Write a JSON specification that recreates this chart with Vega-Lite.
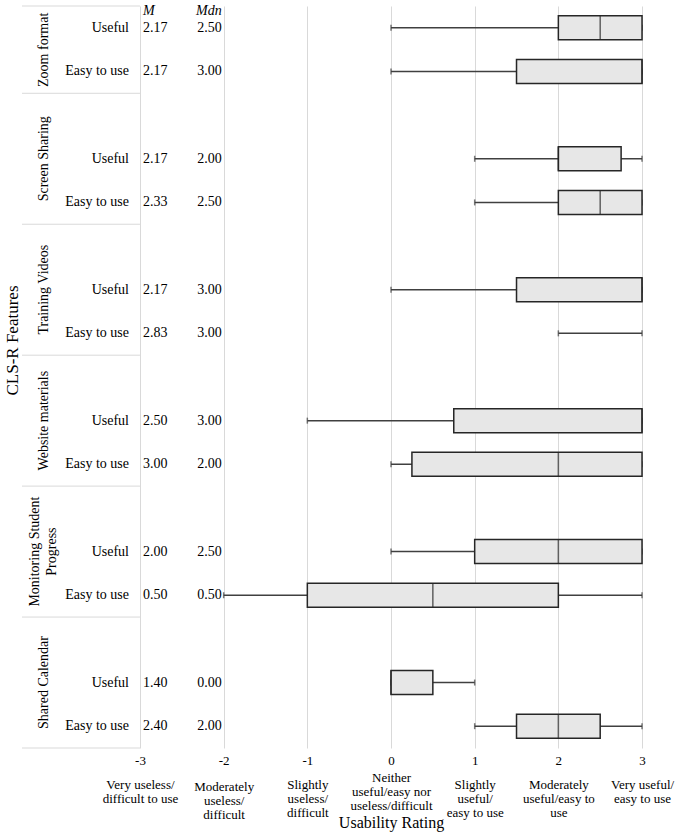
{
  "$schema": "https://vega.github.io/schema/vega-lite/v6.json",
  "width": 653,
  "height": 742,
  "autosize": {"type": "none"},
  "padding": {"left": 22, "top": 6, "right": 10, "bottom": 91},
  "background": "white",
  "config": {"view": {"stroke": null}, "font": "Liberation Serif", "text": {"font": "Liberation Serif", "fontSize": 14, "color": "black"}},
  "datasets": {
    "stats": [
      {"row": "Zoom format|Useful", "measure": "Useful", "M": 2.17, "Mdn": 2.50, "min": 0, "q1": 2, "median": 2.5, "q3": 3, "max": 3},
      {"row": "Zoom format|Easy to use", "measure": "Easy to use", "M": 2.17, "Mdn": 3.00, "min": 0, "q1": 1.5, "median": 3, "q3": 3, "max": 3},
      {"row": "Screen Sharing|Useful", "measure": "Useful", "M": 2.17, "Mdn": 2.00, "min": 1, "q1": 2, "median": 2, "q3": 2.75, "max": 3},
      {"row": "Screen Sharing|Easy to use", "measure": "Easy to use", "M": 2.33, "Mdn": 2.50, "min": 1, "q1": 2, "median": 2.5, "q3": 3, "max": 3},
      {"row": "Training Videos|Useful", "measure": "Useful", "M": 2.17, "Mdn": 3.00, "min": 0, "q1": 1.5, "median": 3, "q3": 3, "max": 3},
      {"row": "Training Videos|Easy to use", "measure": "Easy to use", "M": 2.83, "Mdn": 3.00, "min": 2, "q1": 3, "median": 3, "q3": 3, "max": 3},
      {"row": "Website materials|Useful", "measure": "Useful", "M": 2.50, "Mdn": 3.00, "min": -1, "q1": 0.75, "median": 3, "q3": 3, "max": 3},
      {"row": "Website materials|Easy to use", "measure": "Easy to use", "M": 3.00, "Mdn": 2.00, "min": 0, "q1": 0.25, "median": 2, "q3": 3, "max": 3},
      {"row": "Monitoring Student Progress|Useful", "measure": "Useful", "M": 2.00, "Mdn": 2.50, "min": 0, "q1": 1, "median": 2, "q3": 3, "max": 3},
      {"row": "Monitoring Student Progress|Easy to use", "measure": "Easy to use", "M": 0.50, "Mdn": 0.50, "min": -2, "q1": -1, "median": 0.5, "q3": 2, "max": 3},
      {"row": "Shared Calendar|Useful", "measure": "Useful", "M": 1.40, "Mdn": 0.00, "min": 0, "q1": 0, "median": 0, "q3": 0.5, "max": 1},
      {"row": "Shared Calendar|Easy to use", "measure": "Easy to use", "M": 2.40, "Mdn": 2.00, "min": 1, "q1": 1.5, "median": 2, "q3": 2.5, "max": 3}
    ],
    "groups": [
      {"group": "Zoom format", "row": "Zoom format|Useful", "label": "Zoom format"},
      {"group": "Screen Sharing", "row": "Screen Sharing|Useful", "label": "Screen Sharing"},
      {"group": "Training Videos", "row": "Training Videos|Useful", "label": "Training Videos"},
      {"group": "Website materials", "row": "Website materials|Useful", "label": "Website materials"},
      {"group": "Monitoring Student Progress", "row": "Monitoring Student Progress|Useful", "label": ["Monitoring Student", "Progress"]},
      {"group": "Shared Calendar", "row": "Shared Calendar|Useful", "label": "Shared Calendar"}
    ],
    "borders": [
      {"row": "Zoom format|Easy to use"},
      {"row": "Screen Sharing|Easy to use"},
      {"row": "Training Videos|Easy to use"},
      {"row": "Website materials|Easy to use"},
      {"row": "Monitoring Student Progress|Easy to use"},
      {"row": "Shared Calendar|Easy to use"}
    ]
  },
  "resolve": {"axis": {"x": "independent"}},
  "encoding": {
    "y": {
      "field": "row", "type": "ordinal",
      "scale": {"domain": ["Zoom format|Useful","Zoom format|Easy to use","gap1","Screen Sharing|Useful","Screen Sharing|Easy to use","gap2","Training Videos|Useful","Training Videos|Easy to use","gap3","Website materials|Useful","Website materials|Easy to use","gap4","Monitoring Student Progress|Useful","Monitoring Student Progress|Easy to use","gap5","Shared Calendar|Useful","Shared Calendar|Easy to use"], "paddingInner": 0, "paddingOuter": 0},
      "axis": {"title": "CLS-R Features", "labels": false, "ticks": false, "domain": false, "grid": false, "titleFont": "Liberation Serif", "titleFontSize": 17, "titleFontWeight": "normal", "titleColor": "black", "titleAngle": 270, "titleX": -10, "titleY": 334, "titleAlign": "center", "titleBaseline": "middle"}
    }
  },
  "layer": [
    {
      "data": {"name": "stats"},
      "mark": {"type": "rule", "color": "#404040", "strokeWidth": 1.5},
      "encoding": {
        "x": {"field": "min", "type": "quantitative", "scale": {"domain": [-4.41, 3.394], "nice": false, "zero": false},
          "axis": {"orient": "bottom", "values": [-3,-2,-1,0,1,2,3], "grid": true, "gridColor": "#d9d9d9", "gridWidth": 1, "domain": false, "ticks": false, "tickSize": 0, "labelPadding": 6, "labelFont": "Liberation Serif", "labelFontSize": 13, "labelColor": "black", "labelExpr": "datum.value + ''", "labelFlush": false, "labelOverlap": false, "labelBaseline": "top", "title": "Usability Rating", "titleFont": "Liberation Serif", "titleFontSize": 16, "titleFontWeight": "normal", "titleColor": "black", "titleX": 369, "titleY": 74, "titleBaseline": "middle", "titleAlign": "center"}},
        "x2": {"field": "max"}
      }
    },
    {
      "data": {"name": "stats"},
      "mark": {"type": "tick", "color": "#404040", "size": 6, "thickness": 1.5},
      "encoding": {"x": {"field": "min", "type": "quantitative", "scale": {"domain": [-4.41, 3.394], "nice": false, "zero": false}, "axis": null}}
    },
    {
      "data": {"name": "stats"},
      "mark": {"type": "tick", "color": "#404040", "size": 6, "thickness": 1.5},
      "encoding": {"x": {"field": "max", "type": "quantitative", "scale": {"domain": [-4.41, 3.394], "nice": false, "zero": false}, "axis": null}}
    },
    {
      "data": {"name": "stats"},
      "transform": [{"filter": "datum.q3 > datum.q1"}],
      "mark": {"type": "bar", "height": {"band": 0.55}, "fill": "#e7e7e7", "stroke": "#262626", "strokeWidth": 1.5},
      "encoding": {
        "x": {"field": "q1", "type": "quantitative", "scale": {"domain": [-4.41, 3.394], "nice": false, "zero": false},
          "axis": {"orient": "bottom", "offset": 24, "values": [-3,-2,-1,0,1,2,3], "grid": false, "domain": false, "ticks": false, "tickSize": 0,
            "labelPadding": {"condition": [{"test": "datum.value == 0", "value": -1}, {"test": "datum.value == -2", "value": 8}], "value": 6},
            "labelExpr": "datum.value == -3 ? ['Very useless/', 'difficult to use'] : datum.value == -2 ? ['Moderately', 'useless/', 'difficult'] : datum.value == -1 ? ['Slightly', 'useless/', 'difficult'] : datum.value == 0 ? ['Neither', 'useful/easy nor', 'useless/difficult'] : datum.value == 1 ? ['Slightly', 'useful/', 'easy to use'] : datum.value == 2 ? ['Moderately', 'useful/easy to', 'use'] : ['Very useful/', 'easy to use']",
            "labelLineHeight": 14, "labelFont": "Liberation Serif", "labelFontSize": 13, "labelColor": "black", "labelBaseline": "top", "labelFlush": false, "labelOverlap": false, "labelBound": false, "title": null}},
        "x2": {"field": "q3"}
      }
    },
    {
      "data": {"name": "stats"},
      "transform": [{"filter": "datum.q3 > datum.q1"}],
      "mark": {"type": "tick", "color": "#262626", "size": 24, "thickness": 1.5},
      "encoding": {"x": {"field": "median", "type": "quantitative", "scale": {"domain": [-4.41, 3.394], "nice": false, "zero": false}, "axis": null}}
    },
    {
      "data": {"name": "stats"},
      "mark": {"type": "text", "align": "left", "baseline": "middle", "dx": 3, "fontSize": 14},
      "encoding": {
        "x": {"datum": -3, "type": "quantitative", "scale": {"domain": [-4.41, 3.394], "nice": false, "zero": false}, "axis": null},
        "text": {"field": "M", "type": "quantitative", "format": ".2f"}
      }
    },
    {
      "data": {"name": "stats"},
      "mark": {"type": "text", "align": "right", "baseline": "middle", "dx": -2, "fontSize": 14},
      "encoding": {
        "x": {"datum": -2, "type": "quantitative", "scale": {"domain": [-4.41, 3.394], "nice": false, "zero": false}, "axis": null},
        "text": {"field": "Mdn", "type": "quantitative", "format": ".2f"}
      }
    },
    {
      "data": {"name": "stats"},
      "mark": {"type": "text", "align": "right", "baseline": "middle", "dx": -11, "fontSize": 14},
      "encoding": {
        "x": {"datum": -3, "type": "quantitative", "scale": {"domain": [-4.41, 3.394], "nice": false, "zero": false}, "axis": null},
        "text": {"field": "measure", "type": "nominal"}
      }
    },
    {
      "data": {"values": [{"row": "Zoom format|Useful", "label": "M"}]},
      "mark": {"type": "text", "align": "left", "baseline": "middle", "dx": 3, "dy": -17, "fontSize": 14, "fontStyle": "italic"},
      "encoding": {
        "x": {"datum": -3, "type": "quantitative", "scale": {"domain": [-4.41, 3.394], "nice": false, "zero": false}, "axis": null},
        "text": {"field": "label", "type": "nominal"}
      }
    },
    {
      "data": {"values": [{"row": "Zoom format|Useful", "label": "Mdn"}]},
      "mark": {"type": "text", "align": "right", "baseline": "middle", "dx": -2, "dy": -17, "fontSize": 14, "fontStyle": "italic"},
      "encoding": {
        "x": {"datum": -2, "type": "quantitative", "scale": {"domain": [-4.41, 3.394], "nice": false, "zero": false}, "axis": null},
        "text": {"field": "label", "type": "nominal"}
      }
    },
    {
      "data": {"name": "groups"},
      "transform": [{"filter": "datum.group != 'Zoom format' && datum.group != 'Monitoring Student Progress'"}],
      "mark": {"type": "text", "align": "center", "baseline": "middle", "angle": 270, "fontSize": 14},
      "encoding": {
        "x": {"datum": -4.147, "type": "quantitative", "scale": {"domain": [-4.41, 3.394], "nice": false, "zero": false}, "axis": null},
        "text": {"field": "label"}
      }
    },
    {
      "data": {"name": "groups"},
      "transform": [{"filter": "datum.group == 'Monitoring Student Progress'"}],
      "mark": {"type": "text", "align": "center", "baseline": "middle", "angle": 270, "dy": -9, "fontSize": 14, "lineHeight": 17},
      "encoding": {
        "x": {"datum": -4.147, "type": "quantitative", "scale": {"domain": [-4.41, 3.394], "nice": false, "zero": false}, "axis": null},
        "text": {"field": "label"}
      }
    },
    {
      "data": {"name": "groups"},
      "transform": [{"filter": "datum.group == 'Zoom format'"}],
      "mark": {"type": "text", "align": "center", "baseline": "middle", "angle": 270, "dx": -22, "fontSize": 14},
      "encoding": {
        "x": {"datum": -4.147, "type": "quantitative", "scale": {"domain": [-4.41, 3.394], "nice": false, "zero": false}, "axis": null},
        "text": {"field": "label"}
      }
    },
    {
      "data": {"name": "borders"},
      "mark": {"type": "rule", "color": "#d9d9d9", "strokeWidth": 1},
      "encoding": {
        "x": {"datum": -4.41, "type": "quantitative", "scale": {"domain": [-4.41, 3.394], "nice": false, "zero": false}, "axis": null},
        "x2": {"datum": -3},
        "y": {"field": "row", "type": "ordinal", "bandPosition": 1, "scale": {"domain": ["Zoom format|Useful","Zoom format|Easy to use","gap1","Screen Sharing|Useful","Screen Sharing|Easy to use","gap2","Training Videos|Useful","Training Videos|Easy to use","gap3","Website materials|Useful","Website materials|Easy to use","gap4","Monitoring Student Progress|Useful","Monitoring Student Progress|Easy to use","gap5","Shared Calendar|Useful","Shared Calendar|Easy to use"], "paddingInner": 0, "paddingOuter": 0},
          "axis": {"title": "CLS-R Features", "labels": false, "ticks": false, "domain": false, "grid": false, "titleFont": "Liberation Serif", "titleFontSize": 17, "titleFontWeight": "normal", "titleColor": "black", "titleAngle": 270, "titleX": -10, "titleY": 334, "titleAlign": "center", "titleBaseline": "middle"}}
      }
    },
    {
      "data": {"values": [{"row": "Zoom format|Useful"}]},
      "mark": {"type": "rule", "color": "#d9d9d9", "strokeWidth": 1},
      "encoding": {
        "x": {"datum": -4.41, "type": "quantitative", "scale": {"domain": [-4.41, 3.394], "nice": false, "zero": false}, "axis": null},
        "x2": {"datum": -3},
        "y": {"field": "row", "type": "ordinal", "bandPosition": 0, "scale": {"domain": ["Zoom format|Useful","Zoom format|Easy to use","gap1","Screen Sharing|Useful","Screen Sharing|Easy to use","gap2","Training Videos|Useful","Training Videos|Easy to use","gap3","Website materials|Useful","Website materials|Easy to use","gap4","Monitoring Student Progress|Useful","Monitoring Student Progress|Easy to use","gap5","Shared Calendar|Useful","Shared Calendar|Easy to use"], "paddingInner": 0, "paddingOuter": 0},
          "axis": {"title": "CLS-R Features", "labels": false, "ticks": false, "domain": false, "grid": false, "titleFont": "Liberation Serif", "titleFontSize": 17, "titleFontWeight": "normal", "titleColor": "black", "titleAngle": 270, "titleX": -10, "titleY": 334, "titleAlign": "center", "titleBaseline": "middle"}}
      }
    }
  ]
}
